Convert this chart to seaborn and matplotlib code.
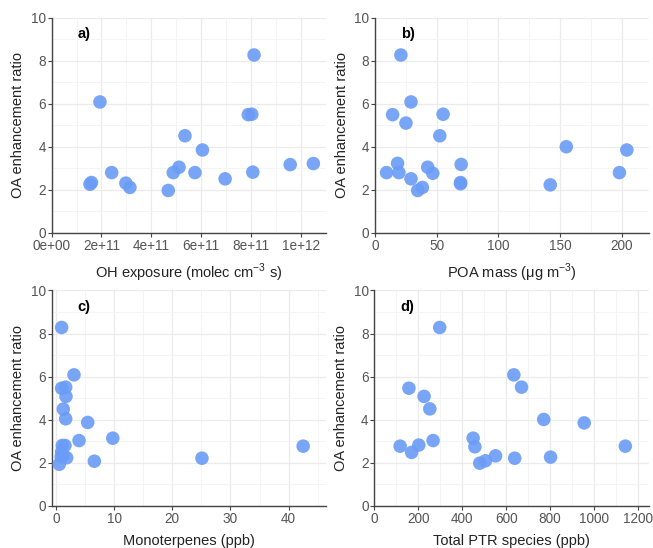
import matplotlib.pyplot as plt
import seaborn as sns
import pandas as pd
from matplotlib.ticker import MultipleLocator, FuncFormatter

# panel a: OH exposure
oh_exposure = [1.54e11, 1.60e11, 1.94e11, 2.41e11, 2.98e11, 3.14e11, 4.68e11, 4.88e11,
               5.11e11, 5.35e11, 5.75e11, 6.05e11, 6.96e11, 7.89e11, 8.03e11, 8.12e11,
               8.07e11, 9.57e11, 1.05e12]
oa_a = [2.26, 2.34, 6.08, 2.80, 2.31, 2.11, 1.97, 2.80, 3.05, 4.51, 2.80, 3.85, 2.51,
        5.49, 5.51, 8.26, 2.82, 3.17, 3.22]

# panel b: POA mass
poa_mass = [9.5, 14.4, 18.4, 19.5, 21.1, 25.2, 29.3, 29.3, 34.7, 38.5, 42.8, 46.9, 52.6,
            55.3, 69.4, 69.4, 69.9, 142, 155, 198, 204]
oa_b = [2.80, 5.49, 3.23, 2.80, 8.26, 5.10, 6.08, 2.51, 1.97, 2.11, 3.05, 2.77, 4.51,
        5.51, 2.34, 2.28, 3.18, 2.23, 4.00, 2.80, 3.85]

# panel c: monoterpenes
monoterpenes = [0.98, 0.57, 0.98, 1.67, 1.72, 1.26, 1.67, 3.1, 1.09, 1.55, 0.98, 1.2,
                0.9, 1.84, 3.97, 5.46, 6.6, 9.77, 25.1, 42.5]
oa_c = [8.28, 1.93, 5.46, 5.51, 5.08, 4.49, 4.04, 6.08, 2.80, 2.80, 2.51, 2.34, 2.28,
        2.23, 3.03, 3.87, 2.07, 3.14, 2.21, 2.77]

# panel d: total PTR species
ptr_total = [118, 158, 170, 203, 227, 253, 268, 298, 450, 458, 480, 506, 552, 635, 639,
             670, 771, 802, 955, 1142]
oa_d = [2.77, 5.46, 2.48, 2.82, 5.08, 4.50, 3.03, 8.28, 3.14, 2.74, 1.98, 2.09, 2.32,
        6.08, 2.21, 5.51, 4.01, 2.26, 3.85, 2.77]

panels = [
    ("a)", oh_exposure, oa_a, "OH exposure (molec cm$^{-3}$ s)", (0, 1.1e12), 2e11, 1e11),
    ("b)", poa_mass, oa_b, "POA mass (\u03bcg m$^{-3}$)", (0, 222), 50, 25),
    ("c)", monoterpenes, oa_c, "Monoterpenes (ppb)", (-0.75, 46.4), 10, 5),
    ("d)", ptr_total, oa_d, "Total PTR species (ppb)", (0, 1250), 200, 100),
]

sns.set_theme(style="white")
plt.rcParams['font.family'] = ['Liberation Sans', 'DejaVu Sans']
plt.rcParams['mathtext.fontset'] = 'custom'
plt.rcParams['mathtext.rm'] = 'Liberation Sans'

fig = plt.figure(figsize=(6.53, 5.48), dpi=100)
positions = [[0.079, 0.575, 0.42, 0.393],
             [0.574, 0.575, 0.42, 0.393],
             [0.079, 0.077, 0.42, 0.393],
             [0.573, 0.077, 0.421, 0.393]]


def sci_fmt(v, pos):
    if v == 0:
        return "0e+00"
    return "%.0e" % v


for (lab, xs, ys, xlabel, xlim, major, minor), pos in zip(panels, positions):
    ax = fig.add_axes(pos)
    df = pd.DataFrame({"x": xs, "y": ys})
    ax.set_axisbelow(True)
    sns.scatterplot(data=df, x="x", y="y", ax=ax, s=95, color="#6a9bf6",
                    alpha=0.9, edgecolor="none", zorder=3)
    ax.set_xlim(*xlim)
    ax.set_ylim(0, 10)
    ax.xaxis.set_major_locator(MultipleLocator(major))
    ax.xaxis.set_minor_locator(MultipleLocator(minor))
    ax.yaxis.set_major_locator(MultipleLocator(2))
    ax.yaxis.set_minor_locator(MultipleLocator(1))
    if lab == "a)":
        ax.xaxis.set_major_formatter(FuncFormatter(sci_fmt))
    ax.grid(which="major", color="#ebebeb", linewidth=0.9)
    ax.grid(which="minor", color="#f4f4f4", linewidth=0.7)
    for s in ["top", "right"]:
        ax.spines[s].set_visible(False)
    for s in ["left", "bottom"]:
        ax.spines[s].set_color("#444444")
        ax.spines[s].set_linewidth(1.0)
    ax.tick_params(axis="both", which="major", length=3, width=0.8, color="#444444",
                   labelcolor="#555555", labelsize=9.8, bottom=True, left=True)
    ax.tick_params(axis="x", which="major", pad=1.5)
    ax.tick_params(axis="y", which="major", pad=1)
    ax.tick_params(axis="both", which="minor", length=0)
    ax.set_xlabel(xlabel, fontsize=10.5, color="#222222", labelpad=6)
    ax.set_ylabel("OA enhancement ratio", fontsize=10.5, color="#222222", labelpad=4)
    ax.text(0.095, 0.925, lab, transform=ax.transAxes, fontsize=10.5, fontweight="bold",
            color="black", va="center", ha="left")

fig.savefig("out.png", dpi=100)
